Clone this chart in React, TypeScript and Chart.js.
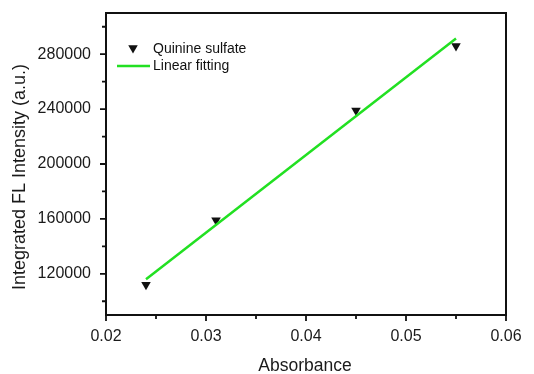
import React, { useEffect, useRef } from "react";
import { Chart, registerables } from "chart.js";

Chart.register(...registerables);

const absorbance = [0.024, 0.031, 0.045, 0.055];
const intensity = [112000, 159000, 239000, 286000];
const fitX = [0.024, 0.055];
const fitY = [116000, 291500];
const xMajorTicks = [0.02, 0.03, 0.04, 0.05, 0.06];
const xMinorTicks = [0.025, 0.035, 0.045, 0.055];
const yMajorTicks = [120000, 160000, 200000, 240000, 280000];
const yMinorTicks = [100000, 140000, 180000, 220000, 260000, 300000];
const seriesNames = ["Quinine sulfate", "Linear fitting"];
const xTitle = "Absorbance";
const yTitle = "Integrated FL Intensity (a.u.)";

const FONT = "'Liberation Sans', Arial, sans-serif";
const GREEN = "#22e022";

const framePlugin = {
  id: "frame",
  afterDraw(chart: any) {
    const { ctx, chartArea: a, scales } = chart;
    const xs = scales.x;
    const ys = scales.y;
    ctx.save();
    ctx.strokeStyle = "#111";
    ctx.lineWidth = 2;
    ctx.strokeRect(a.left, a.top, a.right - a.left, a.bottom - a.top);
    ctx.lineWidth = 1.8;
    ctx.beginPath();
    xMajorTicks.forEach((v) => {
      const px = xs.getPixelForValue(v);
      ctx.moveTo(px, a.bottom);
      ctx.lineTo(px, a.bottom + 6);
    });
    xMinorTicks.forEach((v) => {
      const px = xs.getPixelForValue(v);
      ctx.moveTo(px, a.bottom);
      ctx.lineTo(px, a.bottom + 4);
    });
    yMajorTicks.forEach((v) => {
      const py = ys.getPixelForValue(v);
      ctx.moveTo(a.left, py);
      ctx.lineTo(a.left - 6, py);
    });
    yMinorTicks.forEach((v) => {
      const py = ys.getPixelForValue(v);
      ctx.moveTo(a.left, py);
      ctx.lineTo(a.left - 4, py);
    });
    ctx.stroke();

    // tick labels
    ctx.fillStyle = "#1a1a1a";
    ctx.font = `16px ${FONT}`;
    ctx.textAlign = "center";
    ctx.textBaseline = "middle";
    xMajorTicks.forEach((v) => {
      ctx.fillText(v.toFixed(2), xs.getPixelForValue(v), a.bottom + 22);
    });
    ctx.textAlign = "right";
    yMajorTicks.forEach((v) => {
      ctx.fillText(String(v), a.left - 15, ys.getPixelForValue(v));
    });

    // axis titles
    ctx.font = `17.5px ${FONT}`;
    ctx.textAlign = "center";
    ctx.fillText(xTitle, (a.left + a.right) / 2 - 1, a.bottom + 51);
    ctx.save();
    ctx.translate(20, 177);
    ctx.rotate(-Math.PI / 2);
    ctx.font = `18px ${FONT}`;
    ctx.fillText(yTitle, 0, 0);
    ctx.restore();

    // legend
    ctx.font = `14px ${FONT}`;
    ctx.textAlign = "left";
    ctx.fillStyle = "#111";
    const tx = 133, ty = 48;
    const r = 5.5;
    ctx.beginPath();
    ctx.moveTo(tx, ty + r);
    ctx.lineTo(tx - r * 0.866, ty - r / 2);
    ctx.lineTo(tx + r * 0.866, ty - r / 2);
    ctx.closePath();
    ctx.fill();
    ctx.fillText(seriesNames[0], 153, 49);
    ctx.strokeStyle = GREEN;
    ctx.lineWidth = 2.5;
    ctx.beginPath();
    ctx.moveTo(117, 66);
    ctx.lineTo(150, 66);
    ctx.stroke();
    ctx.fillText(seriesNames[1], 153, 66);
    ctx.restore();
  },
};

export default function App() {
  const ref = useRef<HTMLCanvasElement>(null);
  useEffect(() => {
    if (!ref.current) return;
    const chart = new Chart(ref.current, {
      type: "scatter",
      data: {
        datasets: [
          {
            label: seriesNames[1],
            type: "line",
            data: fitX.map((x, i) => ({ x, y: fitY[i] })),
            borderColor: GREEN,
            borderWidth: 2.5,
            pointRadius: 0,
            showLine: true,
            fill: false,
          } as any,
          {
            label: seriesNames[0],
            data: absorbance.map((x, i) => ({ x, y: intensity[i] })),
            pointStyle: "triangle",
            rotation: 180,
            pointRadius: 5.5,
            backgroundColor: "#111",
            borderColor: "#111",
            borderWidth: 0,
          } as any,
        ],
      },
      options: {
        animation: false,
        responsive: false,
        layout: { padding: { left: 106, top: 13, right: 28, bottom: 59 } },
        plugins: { legend: { display: false }, tooltip: { enabled: false } },
        scales: {
          x: {
            type: "linear",
            min: 0.02,
            max: 0.06,
            display: false,
          },
          y: {
            type: "linear",
            min: 90000,
            max: 310000,
            display: false,
          },
        },
      },
      plugins: [framePlugin],
    });
    return () => chart.destroy();
  }, []);
  return (
    <div style={{ position: "fixed", left: 0, top: 0, width: 534, height: 374, background: "#fff" }}>
      <canvas ref={ref} width={534} height={374} style={{ width: 534, height: 374 }} />
    </div>
  );
}
